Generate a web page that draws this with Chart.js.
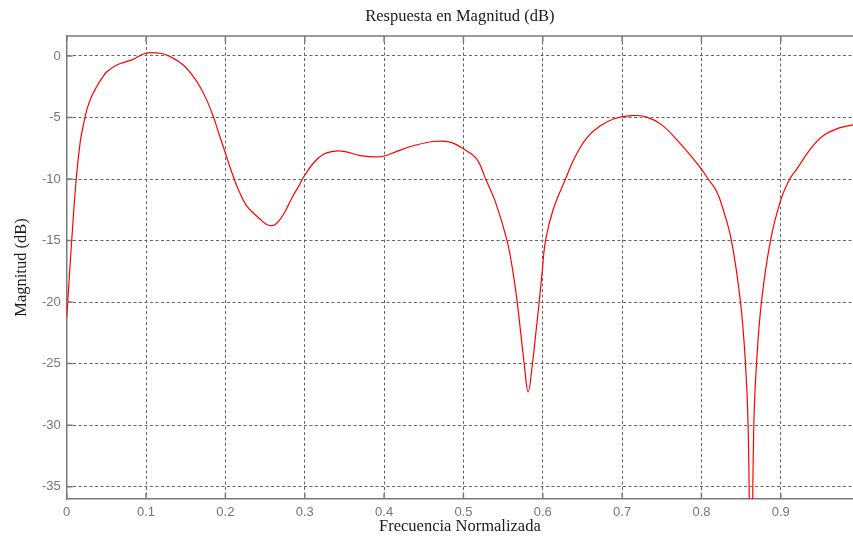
<!DOCTYPE html>
<html>
<head>
<meta charset="utf-8">
<title>Respuesta en Magnitud (dB)</title>
<script src="https://cdn.jsdelivr.net/npm/chart.js@4/dist/chart.umd.min.js"></script>
<style>
  html, body { margin: 0; padding: 0; background: #ffffff; }
  canvas { display: block; }
</style>
</head>
<body>
<canvas id="magCanvas" width="853" height="537"></canvas>
<script>
// normalized frequency (x) and magnitude in dB (y)
var freq = [
  0.000, 0.0013, 0.0063, 0.012, 0.017, 0.021, 0.0245, 0.0272, 0.0320, 0.0378,
  0.0440, 0.0504, 0.063, 0.082, 0.0987, 0.118, 0.130, 0.147, 0.1596, 0.168,
  0.1764, 0.1847, 0.1905, 0.200, 0.2110, 0.218, 0.227, 0.2436, 0.252, 0.2575,
  0.263, 0.273, 0.285, 0.294, 0.298, 0.311, 0.323, 0.336, 0.349, 0.370,
  0.386, 0.399, 0.416, 0.437, 0.462, 0.483, 0.500, 0.517, 0.528, 0.540,
  0.555, 0.5623, 0.5678, 0.5766, 0.5816, 0.587, 0.5913, 0.5955, 0.5993, 0.6035,
  0.613, 0.6287, 0.640, 0.655, 0.672, 0.690, 0.712, 0.730, 0.750, 0.773,
  0.789, 0.800, 0.8084, 0.819, 0.827, 0.8378, 0.8492, 0.8555, 0.8588, 0.8625,
  0.866, 0.8694, 0.8756, 0.887, 0.900, 0.9113, 0.920, 0.937, 0.953, 0.974,
  0.991
];
var magDb = [
  -21.3, -20.0, -15.0, -10.0, -7.0, -5.6, -4.6, -4.0, -3.2, -2.5,
  -1.85, -1.3, -0.73, -0.32, 0.2, 0.22, -0.05, -0.73, -1.68, -2.5,
  -3.57, -4.9, -6.05, -7.9, -10.0, -11.1, -12.2, -13.25, -13.7, -13.78,
  -13.7, -12.9, -11.4, -10.4, -9.9, -8.7, -8.0, -7.75, -7.75, -8.1,
  -8.2, -8.15, -7.75, -7.3, -6.95, -7.0, -7.55, -8.4, -10.0, -11.8,
  -15.0, -17.5, -20.0, -25.0, -27.3, -25.0, -22.5, -20.0, -17.5, -15.0,
  -12.5, -10.0, -8.3, -6.7, -5.7, -5.1, -4.85, -4.95, -5.6, -7.1,
  -8.3, -9.2, -10.0, -11.0, -12.4, -15.0, -20.0, -25.0, -30.0, -45.0,
  -30.0, -25.0, -20.0, -15.0, -11.7, -10.0, -9.2, -7.6, -6.5, -5.85,
  -5.6
];

var xTicks = [0, 0.1, 0.2, 0.3, 0.4, 0.5, 0.6, 0.7, 0.8, 0.9];
var yTicks = [-35, -30, -25, -20, -15, -10, -5, 0];

var points = freq.map(function(f, i) { return {x: f, y: magDb[i]}; });

var serif = '"Liberation Serif", "Times New Roman", serif';
var sans = '"Liberation Sans", Arial, sans-serif';

// MATLAB style: top frame line and ticks pointing inward
var frameTicks = {
  id: 'frameTicks',
  afterDraw: function(chart) {
    var ctx = chart.ctx;
    var a = chart.chartArea;
    var xs = chart.scales.x;
    var ys = chart.scales.y;
    var len = 6;
    ctx.save();
    ctx.strokeStyle = '#7a7a7a';
    ctx.lineWidth = 1.5;
    ctx.beginPath();
    ctx.moveTo(a.left, a.top);
    ctx.lineTo(a.right, a.top);
    xTicks.forEach(function(t) {
      var px = xs.getPixelForValue(t);
      ctx.moveTo(px, a.bottom);
      ctx.lineTo(px, a.bottom - len);
      ctx.moveTo(px, a.top);
      ctx.lineTo(px, a.top + len);
    });
    yTicks.forEach(function(t) {
      var py = ys.getPixelForValue(t);
      ctx.moveTo(a.left, py);
      ctx.lineTo(a.left + len, py);
    });
    ctx.stroke();
    ctx.restore();
  }
};

var ctx = document.getElementById('magCanvas').getContext('2d');

var chart = new Chart(ctx, {
  type: 'line',
  data: {
    datasets: [{
      label: 'Magnitud',
      data: points,
      borderColor: '#ff0000',
      borderWidth: 1.2,
      pointRadius: 0,
      fill: false,
      tension: 0.4
    }]
  },
  options: {
    responsive: false,
    animation: false,
    layout: { padding: 0 },
    plugins: {
      legend: { display: false },
      tooltip: { enabled: false },
      title: {
        display: true,
        text: 'Respuesta en Magnitud (dB)',
        fullSize: false,
        color: '#1a1a1a',
        font: { family: serif, size: 16.5, weight: 'normal' },
        padding: { top: 7.1, bottom: 9.1 }
      }
    },
    scales: {
      x: {
        type: 'linear',
        min: 0,
        max: 0.991,
        afterBuildTicks: function(s) { s.ticks = xTicks.map(function(v) { return {value: v}; }); },
        afterFit: function(s) { s.height = 38; },
        grid: { color: '#666666', lineWidth: 1, drawTicks: false },
        border: { display: true, color: '#7a7a7a', width: 1.5, dash: [3, 2.5] },
        ticks: {
          padding: 6,
          color: '#767676',
          maxRotation: 0,
          font: { family: sans, size: 13 },
          callback: function(v) { return String(v); }
        },
        title: {
          display: true,
          text: 'Frecuencia Normalizada',
          color: '#1a1a1a',
          font: { family: serif, size: 16.5 },
          padding: { top: 0, bottom: 0 }
        }
      },
      y: {
        min: -36,
        max: 1.62,
        afterBuildTicks: function(s) { s.ticks = yTicks.map(function(v) { return {value: v}; }); },
        afterFit: function(s) { s.width = 66.7; },
        grid: { color: '#666666', lineWidth: 1, drawTicks: false },
        border: { display: true, color: '#7a7a7a', width: 1.5, dash: [3, 2.5] },
        ticks: {
          padding: 6,
          color: '#767676',
          font: { family: sans, size: 13 },
          callback: function(v) { return String(v); }
        },
        title: {
          display: true,
          text: 'Magnitud (dB)',
          color: '#1a1a1a',
          font: { family: serif, size: 16.5 },
          padding: { top: 12.1, bottom: 0 }
        }
      }
    }
  },
  plugins: [frameTicks]
});
</script>
</body>
</html>
